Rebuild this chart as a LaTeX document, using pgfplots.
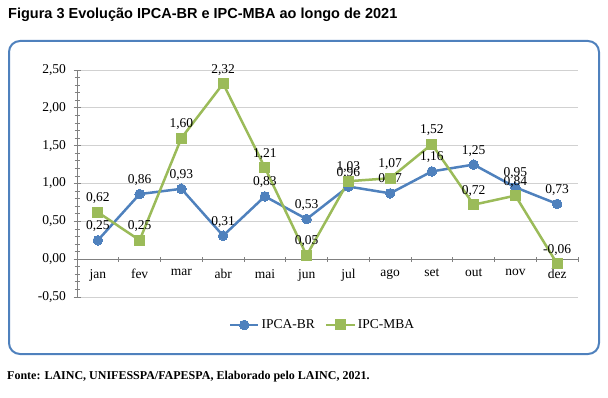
\documentclass[border=0pt]{standalone}
\usepackage{fontspec}
\setmainfont{Liberation Serif}
\newfontfamily\arialfont{Liberation Sans}
\usepackage{pgfplots}
\usepackage{pgfplotstable}
\pgfplotsset{compat=1.18}
\definecolor{cblue}{RGB}{79,129,189}
\definecolor{cgreen}{RGB}{155,187,89}
\definecolor{boxblue}{RGB}{79,129,189}
\newcommand\cf{\fontsize{13.5}{15}\selectfont}
\pgfplotstableread{
x a b
0 0.25 0.62
1 0.86 0.25
2 0.93 1.60
3 0.31 2.32
4 0.83 1.21
5 0.53 0.05
6 0.96 1.03
7 0.87 1.07
8 1.16 1.52
9 1.25 0.72
10 0.95 0.84
11 0.73 -0.06
}\data
\begin{document}
\begin{tikzpicture}[x=1pt,y=1pt]
\path[use as bounding box] (0,0) rectangle (608,397);
\draw[rounded corners=11pt, line width=2pt, boxblue] (9,356) rectangle (599,43);
\node[anchor=base west, inner sep=0pt, font=\arialfont\bfseries\fontsize{14.5}{16}\selectfont] at (8,378) {Figura 3 Evolução IPCA-BR e IPC-MBA ao longo de 2021};
\node[anchor=base west, inner sep=0pt, font=\bfseries\fontsize{12}{14}\selectfont] at (7,18) {Fonte: LAINC, UNIFESSPA/FAPESPA, Elaborado pelo LAINC, 2021.};
\begin{axis}[
 at={(77pt,100pt)}, anchor=south west,
 width=501pt, height=227pt, scale only axis,
 xmin=-0.5, xmax=11.5, ymin=-0.5, ymax=2.5,
 axis x line*=middle, axis y line*=left,
 ytick={-0.5,0,0.5,1,1.5,2,2.5},
 minor y tick num=4,
 xtick={0,...,11},
 xticklabels={jan,fev,mar,abr,mai,jun,jul,ago,set,out,nov,dez},
 major x tick style={draw=none},
 minor xtick={-0.5,0.5,...,11.5},
 tick align=center,
 ymajorgrids, grid style={black!18, line width=1pt},
 axis line style={black!50, line width=0.8pt},
 tick style={black!50, line width=0.8pt},
 major tick length=7pt, minor tick length=5pt,
 /pgf/number format/.cd, use comma, fixed, fixed zerofill, precision=2, assume math mode=true,
 /pgfplots/.cd,
 ticklabel style={font=\cf},
 yticklabel style={xshift=-4pt},
 xticklabel style={yshift=-3pt},
 clip=false,
 legend style={at={(0.49,-0.123)}, anchor=center, draw=none, legend columns=2, font=\cf,
   /tikz/every even column/.append style={column sep=8pt}},
 legend image code/.code={\draw[mark repeat=2,mark phase=2] plot coordinates {(0cm,0cm)(0.5cm,0cm)(1cm,0cm)};},
 nodes near coords,
 every node near coord/.append style={font=\cf, black, anchor=south, yshift=5pt},
]
\addplot[cblue, line width=2.5pt, mark=*, mark size=4.8pt, mark options={fill=cblue, draw=cblue, line width=0pt}] table[x=x,y=a]{\data};
\addlegendentry{IPCA-BR}
\addplot[cgreen, line width=2.5pt, mark=square*, mark size=5pt, mark options={fill=cgreen, draw=cgreen, line width=0pt}] table[x=x,y=b]{\data};
\addlegendentry{IPC-MBA}
\end{axis}
\end{tikzpicture}
\end{document}
